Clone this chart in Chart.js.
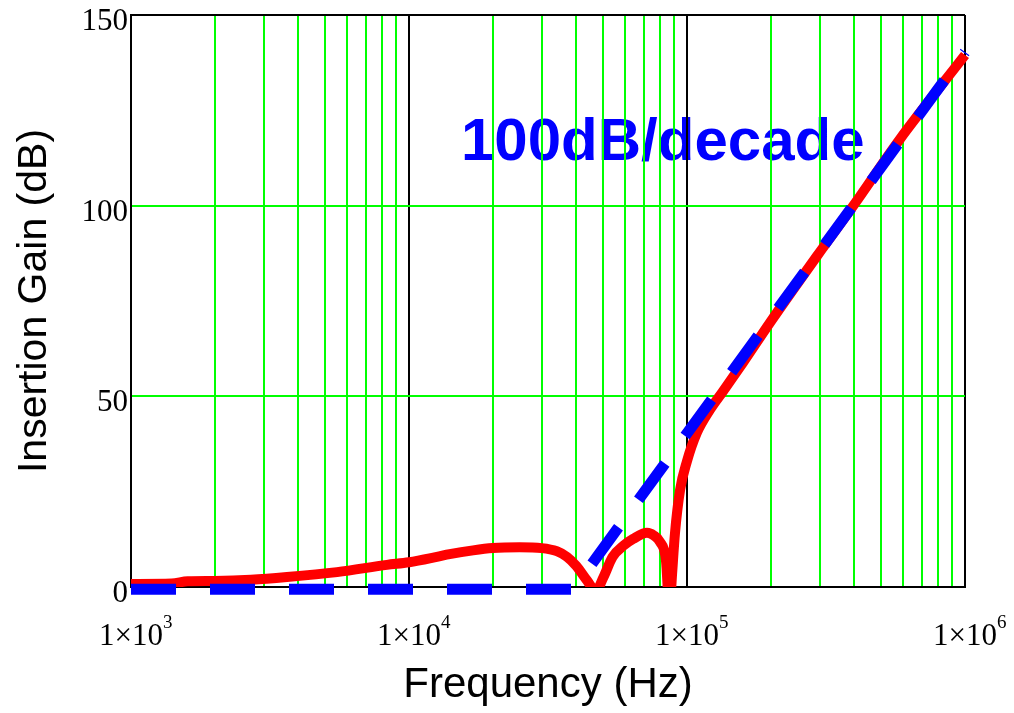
<!DOCTYPE html>
<html>
<head>
<meta charset="utf-8">
<title>Insertion Gain</title>
<script src="https://cdn.jsdelivr.net/npm/chart.js@4.4.1/dist/chart.umd.min.js"></script>
<style>
  html, body { margin: 0; padding: 0; background: #fff; }
  #wrap { width: 1014px; height: 713px; }
</style>
</head>
<body>
<div id="wrap"><canvas id="gainChart" width="1014" height="713"></canvas></div>
<script>
// Measured insertion gain (red curve), Hz / dB
const measFreq = [1000, 1400, 1600, 2000, 2700, 3640, 5510, 8330, 10000, 12600, 14000, 17000, 20000, 25000,
  30000, 34000, 37000, 40000, 43600, 47000, 50000, 54000, 59000, 64000, 71800, 76000, 80000, 84000,
  86500, 88300, 90500, 94400, 100000, 108600, 121000, 134700, 158800, 200000, 293500,
  395000, 584000, 1000000];
const measGain = [0.8, 0.9, 1.5, 1.6, 1.9, 2.6, 3.9, 5.8, 6.5, 7.9, 8.6, 9.6, 10.2, 10.4,
  10.2, 9.4, 7.9, 5.5, 1.8, -1, 2.5, 7.9, 10.8, 12.6, 14.2, 13.5, 11.8, 7,
  -6, 3, 14, 25.4, 33, 40.5, 46.5, 51.3, 58.8, 69.6, 86.8,
  99.8, 117.5, 139.5];

// 100 dB/decade asymptote (blue dashed)
const asymFreq = [1000, 39000, 1000000];
const asymGain = [-0.6, -0.6, 140.3];

// Axis ticks
const xTicks = [1000, 2000, 3000, 4000, 5000, 6000, 7000, 8000, 9000,
  10000, 20000, 30000, 40000, 50000, 60000, 70000, 80000, 90000,
  100000, 200000, 300000, 400000, 500000, 600000, 700000, 800000, 900000, 1000000];
const xMajor = [1000, 10000, 100000, 1000000];
const xMajorExp = [3, 4, 5, 6];
const yTicks = [0, 50, 100, 150];

const GREEN = '#00ff00';

// slope annotation sits under the grid, like the original
const slopeNote = {
  id: 'slopeNote',
  beforeDraw(chart) {
    const ctx = chart.ctx;
    ctx.save();
    ctx.fillStyle = '#0000ff';
    ctx.font = 'bold 60px "Liberation Sans", Arial, sans-serif';
    ctx.textAlign = 'left';
    ctx.textBaseline = 'alphabetic';
    ctx.fillText('100dB/decade', 461, 160);
    ctx.restore();
  }
};

// serif tick labels with 1x10^n exponents
const tickLabels = {
  id: 'tickLabels',
  afterDraw(chart) {
    const { ctx, scales: { x, y } } = chart;
    ctx.save();
    ctx.fillStyle = '#000';
    ctx.textBaseline = 'alphabetic';
    ctx.font = '31px "Liberation Serif", "Times New Roman", serif';
    ctx.textAlign = 'right';
    yTicks.forEach(v => ctx.fillText(String(v), x.left - 3, y.getPixelForValue(v) + 15));
    xMajor.forEach((v, i) => {
      const px = x.getPixelForValue(v);
      ctx.font = '31px "Liberation Serif", "Times New Roman", serif';
      ctx.textAlign = 'center';
      ctx.fillText('1\u00d710', px, y.bottom + 58);
      const w = ctx.measureText('1\u00d710').width;
      ctx.font = '19px "Liberation Serif", "Times New Roman", serif';
      ctx.textAlign = 'left';
      ctx.fillText(String(xMajorExp[i]), px + w / 2, y.bottom + 41);
    });
    ctx.restore();
  }
};

new Chart(document.getElementById('gainChart'), {
  type: 'line',
  data: {
    datasets: [
      {
        data: asymFreq.map((f, i) => ({ x: f, y: asymGain[i] })),
        borderColor: '#0000ff',
        borderWidth: 11,
        borderDash: [45, 34],
        borderCapStyle: 'butt',
        pointRadius: 0,
        tension: 0,
        fill: false,
        clip: false
      },
      {
        data: measFreq.map((f, i) => ({ x: f, y: measGain[i] })),
        borderColor: '#ff0000',
        borderWidth: 10,
        cubicInterpolationMode: 'monotone',
        pointRadius: 0,
        fill: false,
        clip: { left: 5, top: 5, right: 5, bottom: 0 }
      }
    ]
  },
  options: {
    responsive: false,
    animation: false,
    devicePixelRatio: 1,
    layout: { padding: { top: 15, right: 49, left: 0, bottom: 0 } },
    plugins: { legend: { display: false }, tooltip: { enabled: false } },
    scales: {
      x: {
        type: 'logarithmic',
        min: 1000,
        max: 1000000,
        afterBuildTicks: s => { s.ticks = xTicks.map(v => ({ value: v })); },
        afterFit: s => { s.height = 126; },
        ticks: { display: false },
        grid: {
          color: c => xMajor.includes(c.tick.value) ? '#000' : GREEN,
          lineWidth: 2,
          drawTicks: false
        },
        border: { display: true, color: '#000', width: 2 },
        title: {
          display: true,
          text: 'Frequency (Hz)',
          color: '#000',
          font: { family: '"Liberation Sans", Arial, sans-serif', size: 42 },
          padding: { top: 0, bottom: 2 }
        }
      },
      y: {
        type: 'linear',
        min: 0,
        max: 150,
        afterFit: s => { s.width = 131; },
        ticks: { display: false, stepSize: 50 },
        grid: {
          color: c => (c.tick.value === 0 || c.tick.value === 150) ? '#000' : GREEN,
          lineWidth: 2,
          drawTicks: false
        },
        border: { display: true, color: '#000', width: 2 },
        title: {
          display: true,
          text: 'Insertion Gain (dB)',
          color: '#000',
          font: { family: '"Liberation Sans", Arial, sans-serif', size: 41 },
          padding: { top: 10, bottom: 0 }
        }
      }
    }
  },
  plugins: [slopeNote, tickLabels]
});
</script>
</body>
</html>
